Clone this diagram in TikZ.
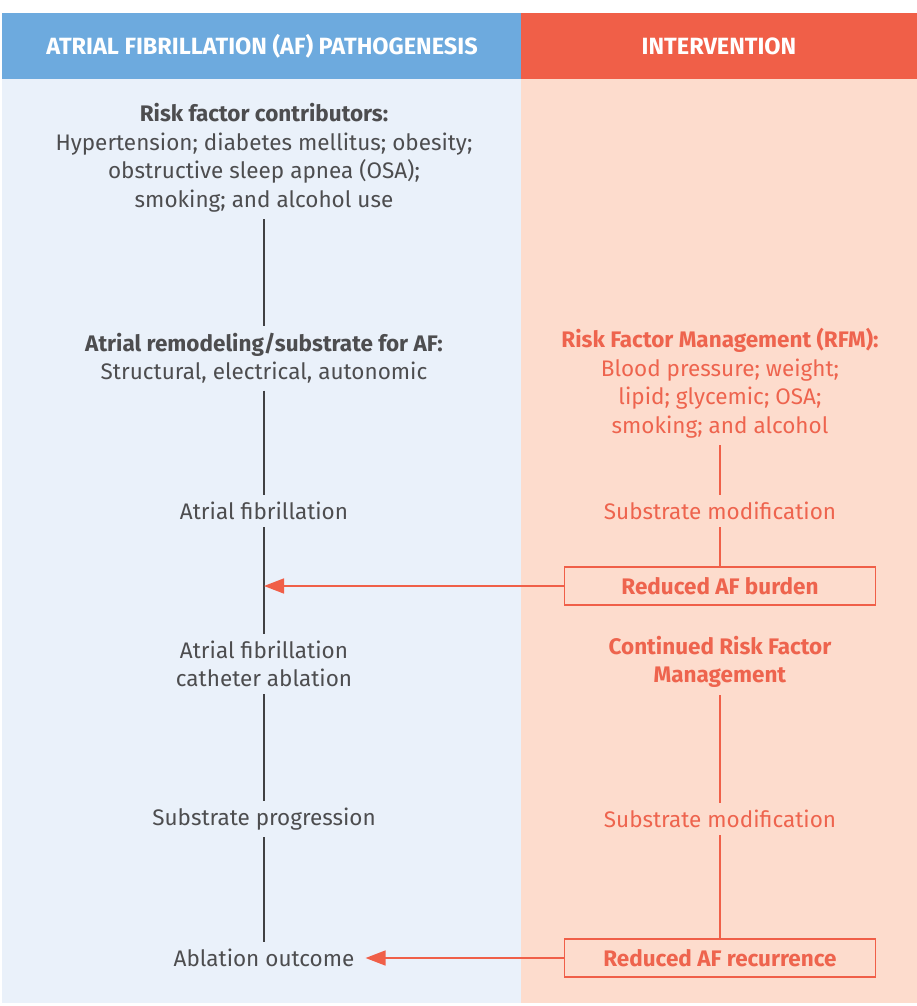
\documentclass[tikz,border=0pt]{standalone}
\usepackage{fontspec}
\setmainfont{Fira Sans}
\usepackage{tikz}
\usetikzlibrary{
  	positioning,
  	arrows.meta,
  	calc
  }
\definecolor{hdblue}{HTML}{6DAADE}
\definecolor{hdred}{HTML}{F05F48}
\definecolor{bgblue}{HTML}{EAF1FA}
\definecolor{bgred}{HTML}{FDDCCD}
\definecolor{txgray}{HTML}{4D4D4F}
\definecolor{txred}{HTML}{EE644E}

\begin{document}
\begin{tikzpicture}[x=1pt, y=-1pt,
  every node/.style={font=\fontsize{22.5}{28.5}\selectfont, align=center, inner sep=7pt},
  path/.style={text=txgray},
  rfm/.style={text=txred},
  hd/.style={text=white, font=\fontsize{23.5}{26}\selectfont\bfseries},
  outbox/.style={draw=hdred, line width=1.6pt, text=txred, font=\fontsize{22.5}{26}\selectfont\bfseries, minimum width=311pt, minimum height=38pt, inner sep=0pt},
  link/.style={draw=txgray!85!black, line width=1.6pt},
  rlink/.style={draw=hdred, line width=1.6pt},
  arr/.style={draw=hdred, line width=1.6pt, -{Triangle[length=20pt,width=15pt]}}]
	\useasboundingbox (0,0) rectangle (917,1006);
%
	\fill[hdblue] (2,13) rectangle (521,79);
	\fill[hdred] (521,13) rectangle (917,79);
	\fill[bgblue] (2,79) rectangle (521,1003);
	\fill[bgred] (521,79) rectangle (917,1003);
	\node[hd] (hdl) at (262,46) {ATRIAL FIBRILLATION (AF) PATHOGENESIS};
	\node[hd] (hdr) at (719,46) {INTERVENTION};
%
	\node[path] (risk) at (264,158) {\textbf{Risk factor contributors:}\\Hypertension; diabetes mellitus; obesity;\\obstructive sleep apnea (OSA);\\smoking; and alcohol use};
	\node[path] (remod) at (264,358) {\textbf{Atrial remodeling/substrate for AF:}\\Structural, electrical, autonomic};
	\node[path] (af) at (264,511) {Atrial fibrillation};
	\node[path] (cath) at (264,664) {Atrial fibrillation\\catheter ablation};
	\node[path] (prog) at (264,819) {Substrate progression};
	\node[path] (outc) at (264,958) {Ablation outcome};
%
	\node[rfm] (mgmt) at (720,383) {\textbf{Risk Factor Management (RFM):}\\Blood pressure; weight;\\lipid; glycemic; OSA;\\smoking; and alcohol};
	\node[rfm] (mod1) at (720,511) {Substrate modification};
	\node[outbox] (burden) at (720,586) {Reduced AF burden};
	\node[rfm] (cont) at (720,662) {\textbf{Continued Risk Factor}\\\textbf{Management}};
	\node[rfm] (mod2) at (720,819) {Substrate modification};
	\node[outbox] (recur) at (720,958) {Reduced AF recurrence};
%
	\draw[link] (risk) -- (remod);
	\draw[link] (remod) -- (af);
	\draw[link] (af) -- (cath);
	\draw[link] (cath) -- (prog);
	\draw[link] (prog) -- (outc);
%
	\draw[rlink] (mgmt) -- (mod1);
	\draw[rlink] (mod1) -- (burden);
	\draw[rlink] (cont) -- (mod2);
	\draw[rlink] (mod2) -- (recur);
%
	\draw[arr] (burden.west) -- (burden.west -| af.center);
	\draw[arr] (recur.west) -- ([xshift=4pt]outc.east |- recur.west);
\end{tikzpicture}
\end{document}
